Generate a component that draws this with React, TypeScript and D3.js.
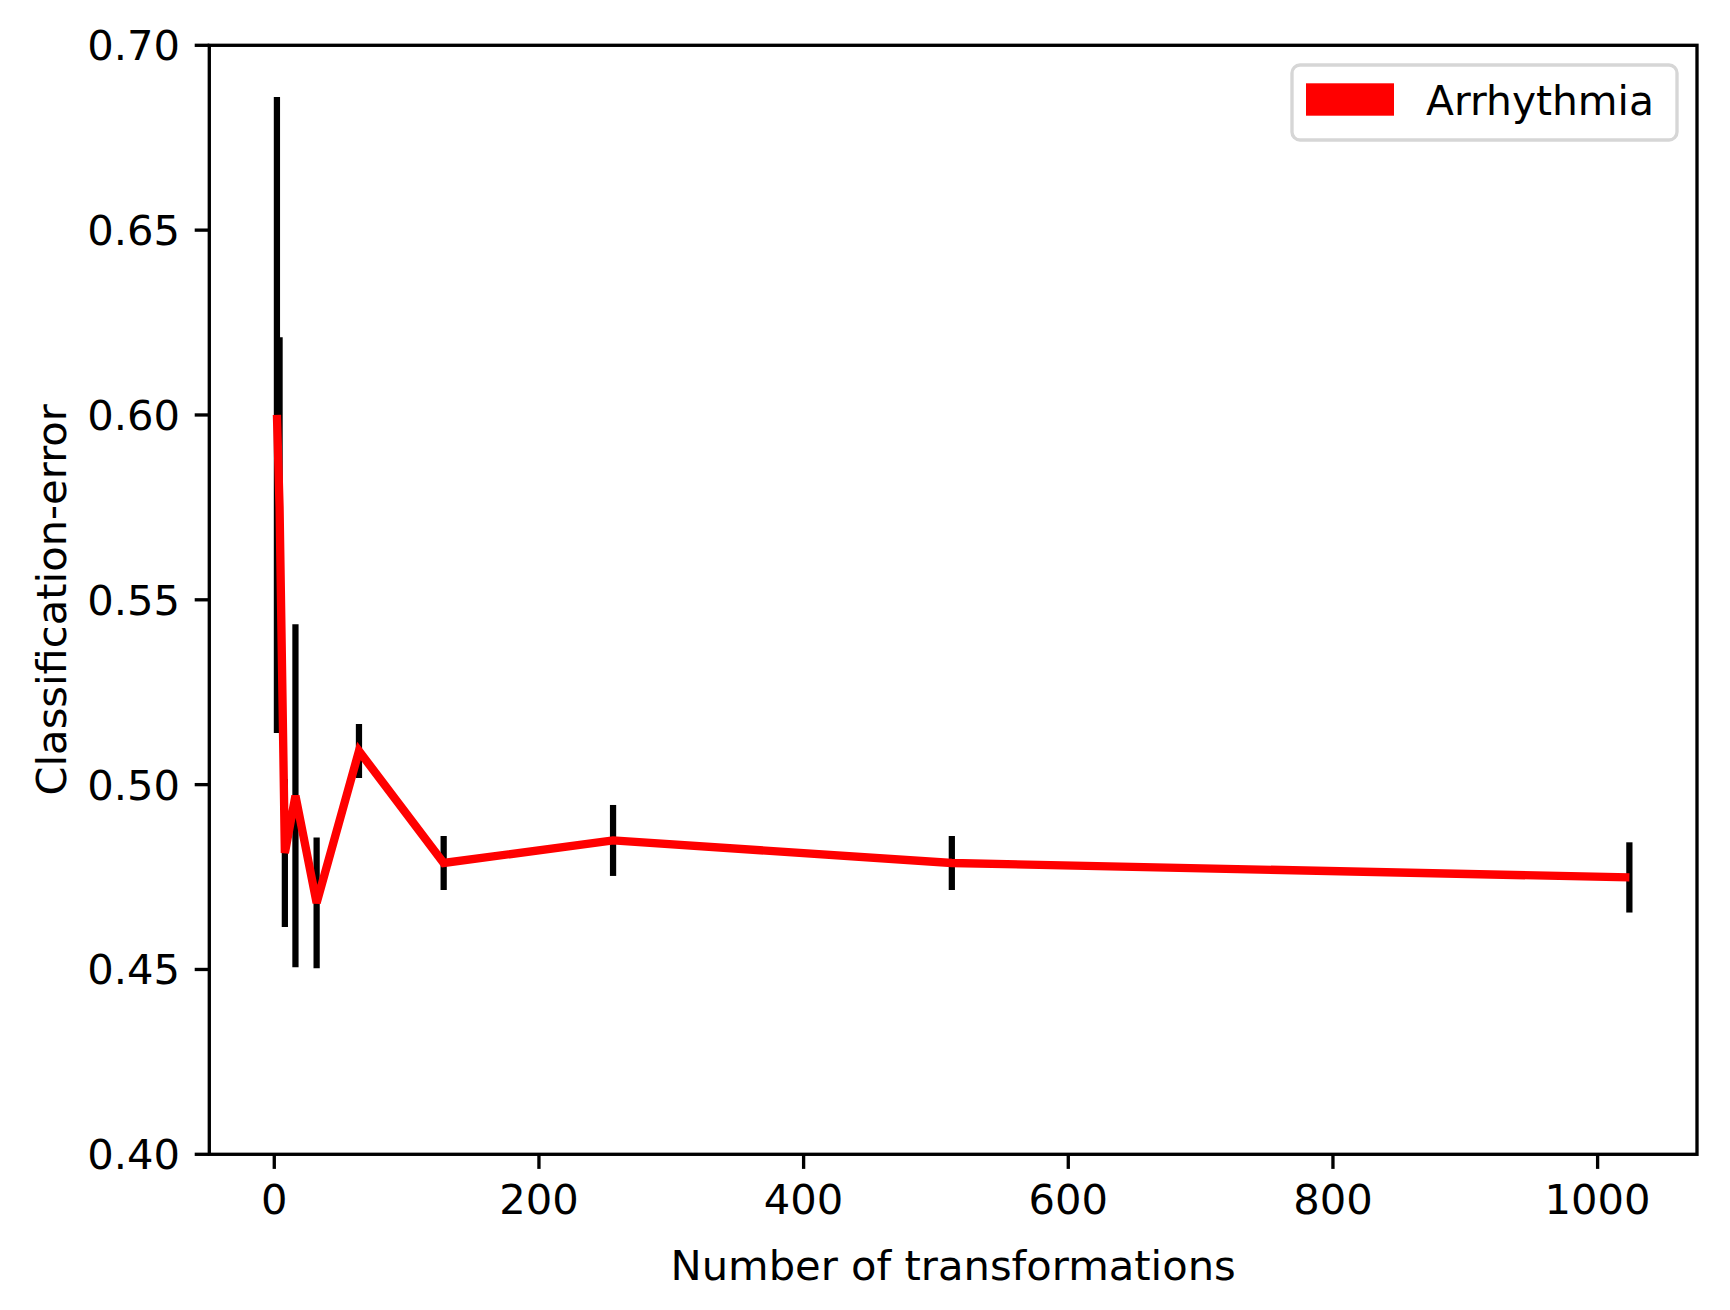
import React from "react";
import * as d3 from "d3";

const xValues = [2, 4, 8, 16, 32, 64, 128, 256, 512, 1024];
const meanError = [0.600, 0.575, 0.4815, 0.497, 0.468, 0.5091, 0.4788, 0.4849, 0.4788, 0.4749];
const stdError = [0.086, 0.046, 0.020, 0.0464, 0.0177, 0.0073, 0.0073, 0.0096, 0.0073, 0.0095];
const xTicks = [0, 200, 400, 600, 800, 1000];
const yTicks = [0.4, 0.45, 0.5, 0.55, 0.6, 0.65, 0.7];
const seriesName = "Arrhythmia";
const xLabel = "Number of transformations";
const yLabel = "Classification-error";

const W = 1730;
const H = 1310;
const left = 209.3;
const right = 1697;
const top = 45.3;
const bottom = 1154.3;
const FS = 41.67;
const LW = 3.33;
const TICK = 14.6;
const FONT = "'DejaVu Sans', sans-serif";

export default function App() {
  const xmin = d3.min(xValues)!;
  const xmax = d3.max(xValues)!;
  const span = xmax - xmin;
  const x = d3.scaleLinear().domain([xmin - 0.05 * span, xmax + 0.05 * span]).range([left, right]);
  const y = d3.scaleLinear().domain([0.4, 0.7]).range([bottom, top]);
  const pts = xValues.map((v, i) => [x(v), y(meanError[i])] as [number, number]);
  const line = d3.line()(pts) || "";

  return (
    <svg width={W} height={H} style={{ position: "absolute", left: 0, top: 0, background: "#fff" }} fontFamily={FONT}>
      <rect x={0} y={0} width={W} height={H} fill="#fff" />
      {xValues.map((v, i) => (
        <line
          key={"e" + i}
          x1={x(v)}
          x2={x(v)}
          y1={y(meanError[i] - stdError[i])}
          y2={y(meanError[i] + stdError[i])}
          stroke="#000"
          strokeWidth={6.25}
        />
      ))}
      <path d={line} fill="none" stroke="#ff0000" strokeWidth={8.33} strokeLinejoin="miter" strokeLinecap="butt" />
      <rect x={left} y={top} width={right - left} height={bottom - top} fill="none" stroke="#000" strokeWidth={LW} />
      {xTicks.map((t) => (
        <g key={"xt" + t}>
          <line x1={x(t)} x2={x(t)} y1={bottom} y2={bottom + TICK} stroke="#000" strokeWidth={LW} />
          <text x={x(t)} y={1214} fontSize={FS} textAnchor="middle" fill="#000">
            {t}
          </text>
        </g>
      ))}
      {yTicks.map((t) => (
        <g key={"yt" + t}>
          <line x1={left - TICK} x2={left} y1={y(t)} y2={y(t)} stroke="#000" strokeWidth={LW} />
          <text x={180} y={y(t) + 15} fontSize={FS} textAnchor="end" fill="#000">
            {t.toFixed(2)}
          </text>
        </g>
      ))}
      <text x={(left + right) / 2} y={1280} fontSize={FS} textAnchor="middle" fill="#000">
        {xLabel}
      </text>
      <text
        transform={`translate(66, ${(top + bottom) / 2}) rotate(-90)`}
        fontSize={FS}
        textAnchor="middle"
        fill="#000"
      >
        {yLabel}
      </text>
      <rect x={1292} y={65} width={385} height={75} rx={8} ry={8} fill="#fff" fillOpacity={0.8} stroke="#d6d6d6" strokeWidth={LW} />
      <rect x={1306} y={83.3} width={88} height={32.4} fill="#ff0000" />
      <text x={1426} y={115} fontSize={40.8} fill="#000">
        {seriesName}
      </text>
    </svg>
  );
}
